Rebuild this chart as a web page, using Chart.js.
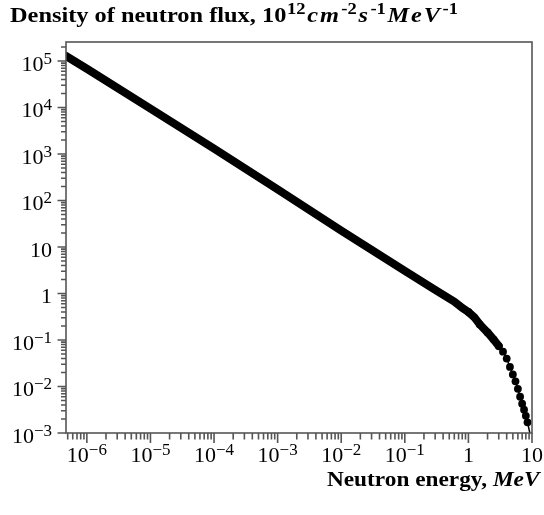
<!DOCTYPE html>
<html>
<head>
<meta charset="utf-8">
<script src="https://cdn.jsdelivr.net/npm/chart.js@4.4.0/dist/chart.umd.min.js"></script>
<style>
  html, body { margin: 0; padding: 0; background: #fff; }
  #wrap { position: relative; width: 544px; height: 515px; font-family: "Liberation Serif", "Times New Roman", serif; color: #000; }
  canvas { position: absolute; left: 0; top: 0; }
  .ttl { position: absolute; font-weight: bold; font-size: 21px; line-height: 1; white-space: nowrap; }
  .ttl sup { font-size: 15px; vertical-align: baseline; position: relative; top: -8px; }
  .unit i { letter-spacing: 1.6px; }
  .unit sup { font-size: 16px; margin: 0 1.5px 0 0.5px; }
  #ytitle { transform: scaleX(1.16); transform-origin: left top; }
  #xtitle { transform: scaleX(1.11); transform-origin: right top; }
</style>
</head>
<body>
<div id="wrap">
  <canvas id="chart" width="544" height="515"></canvas>
  <div class="ttl" id="ytitle" style="left:10px; top:5px">Density of neutron flux, <span class="unit">10<sup>12</sup><i>cm</i><sup>-2</sup><i>s</i><sup>-1</sup><i>MeV</i><sup>-1</sup></span></div>
  <div class="ttl" id="xtitle" style="right:4px; top:469px">Neutron energy, <i>MeV</i></div>
</div>
<script>
// slowing-down part (dense points, drawn as a thick band)
const energyLine = [4.7e-7, 1e-6, 1e-5, 1e-4, 1e-3, 1e-2, 0.1, 0.3, 0.6, 0.8, 1.0, 1.26, 1.5, 2.0, 2.5, 3.0];
const fluxLine   = [1.28e5, 6.8e4, 9.5e3, 1.3e3, 174, 22.5, 3.05, 1.19, 0.67, 0.49, 0.40, 0.30, 0.219, 0.145, 0.102, 0.0741];

// fission tail, separate dots
const energyDots = [1.0, 1.5, 2.0, 2.5, 3.0, 3.5, 4.0, 4.5, 5.0, 5.5, 6.0, 6.5, 7.0, 7.5, 8.0, 8.5, 9.4];
const fluxDots   = [0.40, 0.219, 0.145, 0.102, 0.0741, 0.0562, 0.0398, 0.0263, 0.0182, 0.0129,
                    0.00891, 0.00603, 0.00427, 0.00316, 0.00234, 0.0017, 0.0009];

const xMin = 4.7e-7, xMax = 10;
const yMin = 1e-3, yMax = 2.56e5;

const xTicks = [1e-6, 1e-5, 1e-4, 1e-3, 1e-2, 1e-1, 1, 10];
const xTickLabels = [['10', '\u22126'], ['10', '\u22125'], ['10', '\u22124'], ['10', '\u22123'],
                     ['10', '\u22122'], ['10', '\u22121'], ['1', ''], ['10', '']];
const yTicks = [1e-3, 1e-2, 1e-1, 1, 10, 1e2, 1e3, 1e4, 1e5];
const yTickLabels = [['10', '\u22123'], ['10', '\u22122'], ['10', '\u22121'], ['1', ''], ['10', ''],
                     ['10', '2'], ['10', '3'], ['10', '4'], ['10', '5']];

const FONT = '"Liberation Serif", "Times New Roman", serif';
const AXIS = '#555';

function powLabel(ctx, base, sup, x, y, align) {
  ctx.font = '22px ' + FONT;
  const wb = ctx.measureText(base).width;
  ctx.font = '17px ' + FONT;
  const ws = sup ? ctx.measureText(sup).width : 0;
  const left = align === 'right' ? x - wb - ws : x - (wb + ws) / 2;
  ctx.textAlign = 'left';
  ctx.textBaseline = 'alphabetic';
  ctx.fillStyle = '#000';
  ctx.font = '22px ' + FONT;
  ctx.fillText(base, left, y);
  if (sup) {
    ctx.font = '17px ' + FONT;
    ctx.fillText(sup, left + wb, y - 7);
  }
}

function minorValues(min, max) {
  const out = [];
  for (let e = Math.floor(Math.log10(min)); e <= Math.ceil(Math.log10(max)); e++) {
    for (let m = 1; m <= 9; m++) {
      const v = m * Math.pow(10, e);
      if (v >= min * 0.999 && v <= max * 1.001) out.push({ v, major: m === 1 });
    }
  }
  return out;
}

const frameAndTicks = {
  id: 'frameAndTicks',
  afterDraw(chart) {
    const ctx = chart.ctx;
    const a = chart.chartArea;
    const xs = chart.scales.x, ys = chart.scales.y;
    ctx.save();
    ctx.strokeStyle = AXIS;
    ctx.lineWidth = 1.6;
    ctx.strokeRect(a.left, a.top, a.right - a.left, a.bottom - a.top);

    ctx.beginPath();
    minorValues(xMin, xMax).forEach(t => {
      const px = xs.getPixelForValue(t.v);
      ctx.moveTo(px, a.bottom);
      ctx.lineTo(px, a.bottom + (t.major ? 10 : 6.5));
    });
    minorValues(yMin, yMax).forEach(t => {
      const py = ys.getPixelForValue(t.v);
      ctx.moveTo(a.left, py);
      ctx.lineTo(a.left - (t.major ? 8.5 : 5), py);
    });
    ctx.stroke();

    xTicks.forEach((v, i) => {
      powLabel(ctx, xTickLabels[i][0], xTickLabels[i][1], xs.getPixelForValue(v), a.bottom + 29, 'center');
    });
    yTicks.forEach((v, i) => {
      powLabel(ctx, yTickLabels[i][0], yTickLabels[i][1], 52, ys.getPixelForValue(v) + 10, 'right');
    });
    ctx.restore();
  }
};

new Chart(document.getElementById('chart').getContext('2d'), {
  type: 'scatter',
  data: {
    datasets: [
      {
        data: energyLine.map((e, i) => ({ x: e, y: fluxLine[i] })),
        showLine: true,
        borderColor: '#000',
        borderWidth: 8,
        borderCapStyle: 'round',
        borderJoinStyle: 'round',
        pointRadius: 0,
        tension: 0
      },
      {
        data: energyDots.map((e, i) => ({ x: e, y: fluxDots[i] })),
        showLine: true,
        borderColor: '#000',
        borderWidth: 1.5,
        backgroundColor: '#000',
        pointBackgroundColor: '#000',
        pointBorderWidth: 0,
        pointRadius: ctx => ctx.dataIndex === energyDots.length - 1 ? 0 : 3.9,
        tension: 0
      }
    ]
  },
  options: {
    responsive: false,
    animation: false,
    layout: { padding: { top: 42, right: 12, left: 0, bottom: 0 } },
    plugins: { legend: { display: false }, tooltip: { enabled: false } },
    scales: {
      x: {
        type: 'logarithmic', min: xMin, max: xMax,
        grid: { display: false }, border: { display: false }, ticks: { display: false },
        afterFit: s => { s.height = 82; }
      },
      y: {
        type: 'logarithmic', min: yMin, max: yMax,
        grid: { display: false }, border: { display: false }, ticks: { display: false },
        afterFit: s => { s.width = 66; }
      }
    }
  },
  plugins: [frameAndTicks]
});
</script>
</body>
</html>
